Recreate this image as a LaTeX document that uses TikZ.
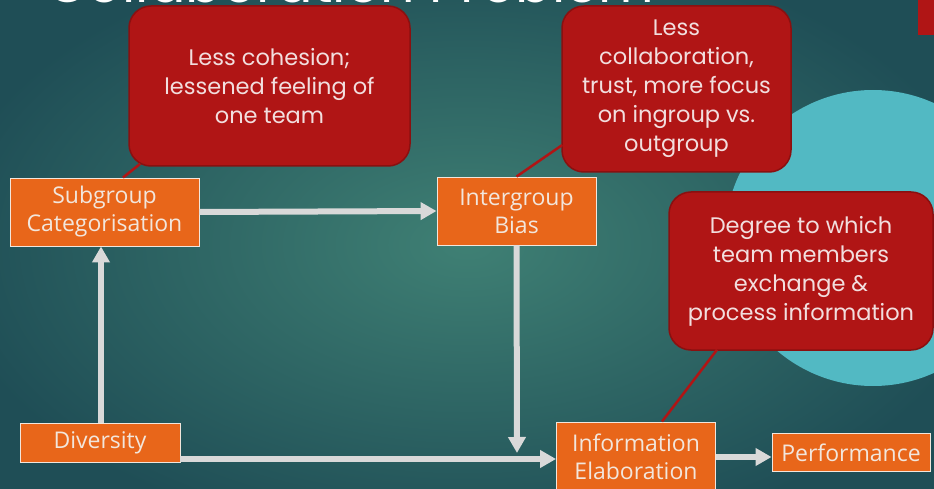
\documentclass[tikz,border=0pt]{standalone}
\usepackage{fontspec}
\setmainfont{Open Sans}
\newfontfamily\callfont{Poppins}
\usetikzlibrary{arrows.meta,calc}
\definecolor{bgin}{HTML}{3F8074}
\definecolor{bgout}{HTML}{1F4E56}
\definecolor{boxor}{HTML}{E8661A}
\definecolor{boxline}{HTML}{F2E6DC}
\definecolor{callred}{HTML}{B01515}
\definecolor{callline}{HTML}{8A1010}
\definecolor{calltext}{HTML}{F2DEDE}
\definecolor{arrgray}{HTML}{D9D9D9}
\definecolor{circteal}{HTML}{52B9C3}
\tikzset{
  factor/.style={fill=boxor, draw=boxline, line width=0.9pt, inner sep=0pt,
    align=center, text=boxline, font=\fontsize{23}{28}\selectfont},
  callout/.style={fill=callred, draw=callline, line width=1.5pt, rounded corners=22pt,
    inner sep=0pt, align=center, text=calltext, font=\callfont\fontsize{22.5}{29}\selectfont},
  flow/.style={draw=arrgray, line width=6pt, -{Triangle[width=17pt,length=16pt]}},
  ptr/.style={draw=callred, line width=2.5pt}
}
\begin{document}
\begin{tikzpicture}[x=1pt,y=-1pt]
\useasboundingbox (0,0) rectangle (934,489);
\clip (0,0) rectangle (934,489);
\shade[inner color=bgin, outer color=bgout] (-60,-60) rectangle (994,549);
\fill[circteal] (873,238) circle (148);
\fill[callred] (918,0) rectangle (934,35);
\node[anchor=base west, text=white, font=\callfont\fontsize{54}{60}\selectfont, inner sep=0pt] (title) at (46,3) {Collaboration Problem};

% boxes
\node[factor, minimum width=189pt, minimum height=68pt] (sub) at (104.5,212) {Subgroup\\Categorisation};
\node[factor, minimum width=159pt, minimum height=68pt] (ib) at (516.5,211) {Intergroup\\Bias};
\node[factor, minimum width=160pt, minimum height=39pt] (div) at (100,442.5) {Diversity};
\node[factor, minimum width=159pt, minimum height=70pt] (info) at (636,457) {Information\\Elaboration};
\node[factor, minimum width=158pt, minimum height=38pt] (perf) at (851,452.5) {Performance};

% callouts
\node[callout, minimum width=281pt, minimum height=160pt] (c1) at (269.5,86) {Less cohesion;\\lessened feeling of\\one team};
\node[callout, minimum width=229pt, minimum height=166pt] (c2) at (676.5,89) {Less\\collaboration,\\trust, more focus\\on ingroup vs.\\outgroup};
\node[callout, minimum width=264pt, minimum height=158pt] (c3) at (801,271) {Degree to which\\team members\\exchange \&\\process information};

% pointers
\draw[ptr] ([xshift=12pt,yshift=3pt]c1.south west) -- ([xshift=18.5pt]sub.north);
\draw[ptr] ([xshift=1pt,yshift=-56pt]c2.west) -- (ib.north);
\draw[ptr] ([xshift=-84pt,yshift=1pt]c3.south) -- ([xshift=26pt]info.north);

% flow arrows
\coordinate (m) at (517,453);
\coordinate (d) at ([yshift=-16.5pt]div.east);
\draw[flow] (sub.east) -- (ib.west);
\draw[flow] ([xshift=1pt]div.north) -- ([xshift=1pt]div.north |- sub.south);
\draw[flow] (ib.south) -- (m);
\draw[flow] (d) -- (d -| info.west);
\draw[flow] (info.east) -- (info.east -| perf.west);
\end{tikzpicture}
\end{document}
